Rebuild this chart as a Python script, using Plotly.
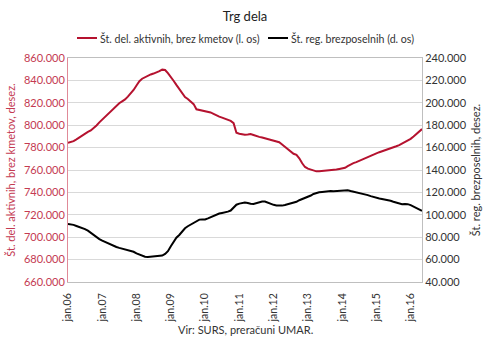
import pandas as pd
import plotly.graph_objects as go

# Monthly observations, January 2006 onwards (seasonally adjusted)
months = pd.date_range("2006-01-01", periods=125, freq="MS")

# Persons in employment excluding farmers (left axis), thousands
employed_k = [
    784.2, 784.8, 785.8, 787.3, 789.0, 791.2, 792.9, 794.0, 795.3, 797.3,
    799.8, 802.5, 805.0, 807.6, 810.0, 812.6, 815.2, 817.5, 819.6, 821.3,
    823.0, 825.5, 828.2, 831.5, 835.5, 839.3, 841.5, 842.9, 844.2, 845.3,
    846.1, 847.0, 848.3, 849.6, 849.3, 846.5, 843.5, 839.5, 836.0, 832.3,
    828.5, 825.2, 823.4, 821.3, 818.8, 814.2, 813.6, 813.7, 813.0, 812.2,
    811.4, 810.2, 808.6, 807.6, 806.8, 805.8, 805.0, 803.8, 801.8, 793.2,
    792.4, 791.9, 791.5, 791.7, 792.1, 791.3, 790.3, 789.6, 789.0, 788.2,
    787.5, 786.8, 786.2, 785.5, 784.8, 782.8, 780.7, 778.5, 776.2, 774.5,
    773.5, 770.5, 766.0, 762.7, 761.2, 760.2, 759.4, 758.8, 758.9, 759.1,
    759.1, 759.3, 759.5, 760.0, 760.4, 760.9, 761.3, 762.0, 763.5, 765.0,
    766.1, 767.0, 768.2, 769.4, 770.3, 771.4, 772.6, 773.8, 774.8, 775.9,
    776.7, 777.2, 778.0, 779.2, 780.3, 781.2, 782.2, 783.5, 784.8, 786.0,
    787.8, 789.9, 792.2, 794.6, 796.5,
]

# Registered unemployed (right axis), thousands
unemployed_k = [
    91.9, 91.5, 91.0, 90.0, 89.2, 88.3, 87.2, 85.8, 83.8, 81.6,
    79.6, 78.3, 76.9, 75.7, 74.5, 73.2, 72.1, 71.3, 70.5, 69.9,
    69.4, 68.8, 68.2, 67.0, 65.6, 64.4, 63.4, 62.6, 62.3, 62.5,
    62.8, 63.0, 63.2, 63.6, 65.0, 67.5, 72.0, 76.5, 79.5, 82.0,
    85.0, 88.0, 89.8, 91.2, 92.8, 94.5, 95.7, 95.8, 95.8, 96.8,
    97.8, 99.0, 100.4, 101.2, 101.7, 102.1, 102.8, 103.8, 106.8, 109.0,
    110.0, 110.7, 111.0, 110.6, 109.8, 109.7, 110.4, 111.4, 111.9, 111.8,
    110.6, 109.6, 108.9, 108.3, 108.1, 108.2, 108.7, 109.3, 110.0, 110.6,
    111.6, 113.0, 114.0, 114.7, 115.9, 117.2, 118.6, 119.5, 120.1, 120.4,
    120.8, 121.2, 121.3, 121.0, 121.3, 121.4, 121.9, 122.2, 121.9, 121.2,
    120.7, 120.0, 119.3, 118.9, 118.3, 117.6, 116.7, 115.8, 115.1, 114.6,
    114.2, 113.8, 113.3, 112.6, 111.7, 110.8, 109.9, 109.5, 109.7, 109.5,
    108.6, 107.4, 106.0, 104.7, 103.6,
]

series_names = ["Št. del. aktivnih, brez kmetov (l. os)", "Št. reg. brezposelnih (d. os)"]

year_ticks = pd.date_range("2006-01-01", "2016-01-01", freq="YS")
year_labels = ["jan.%02d" % (d.year % 100) for d in year_ticks]

left_ticks = list(range(660000, 860001, 20000))
right_ticks = list(range(40000, 240001, 20000))

RED = "#B5122F"
RED_TEXT = "#C43A52"
GRID = "#D9D9D9"
FONT = "Lato"
W, H = 490, 345
ML, MR, MT, MB = 68, 68, 58, 63
PW, PH = W - ML - MR, H - MT - MB


def px_x(p):
    return (p - ML) / PW


def px_y(p):
    return (H - MB - p) / PH


fig = go.Figure()
fig.add_trace(go.Scatter(
    x=months, y=[v * 1000 for v in employed_k], name=series_names[0],
    mode="lines", line=dict(color=RED, width=2),
))
fig.add_trace(go.Scatter(
    x=months, y=[v * 1000 for v in unemployed_k], name=series_names[1],
    mode="lines", line=dict(color="#000000", width=2), yaxis="y2",
))

# One-row legend above the plot: a line sample followed by its label
legend_row_y = 38
legend_items = [(77, 97, RED, series_names[0]), (268, 288, "#000000", series_names[1])]
shapes, annotations = [], []
for x0, x1, col, label in legend_items:
    shapes.append(dict(type="line", xref="paper", yref="paper",
                       x0=px_x(x0), x1=px_x(x1), y0=px_y(legend_row_y), y1=px_y(legend_row_y),
                       line=dict(color=col, width=2)))
    annotations.append(dict(text=label, xref="paper", yref="paper",
                            x=px_x(x1 + 1), y=px_y(legend_row_y), xanchor="left", yanchor="middle",
                            showarrow=False, font=dict(family=FONT, size=10.6, color="#333333")))

annotations.append(dict(
    text="Vir: SURS, preračuni UMAR.", xref="paper", yref="paper",
    x=0.5, y=px_y(329), xanchor="center", yanchor="middle",
    showarrow=False, font=dict(family=FONT, size=11, color="#333333"),
))

fig.update_layout(
    width=W, height=H,
    margin=dict(l=ML, r=MR, t=MT, b=MB),
    paper_bgcolor="white", plot_bgcolor="white",
    separators=",.",
    font=dict(family=FONT, size=11, color="#333333"),
    title=dict(text="Trg dela", x=0.5, xanchor="center", y=1 - 16 / H,
               yanchor="middle", font=dict(family=FONT, size=13, color="#222222")),
    showlegend=False,
    xaxis=dict(
        range=[months[0], months[-1]],
        tickvals=list(year_ticks), ticktext=year_labels, tickangle=-90,
        tickfont=dict(family=FONT, size=10.5, color="#333333"),
        showgrid=False, showline=True, linecolor="#BFBFBF", linewidth=1,
        mirror=True, ticks="outside", ticklen=6, tickcolor="rgba(0,0,0,0)",
        zeroline=False,
    ),
    yaxis=dict(
        range=[660000, 860000], tickvals=left_ticks, tickformat=",.0f",
        tickfont=dict(family=FONT, size=11, color=RED_TEXT),
        title=dict(text="Št. del. aktivnih, brez kmetov, desez.",
                   font=dict(family=FONT, size=11, color=RED_TEXT), standoff=6),
        showgrid=True, gridcolor=GRID, gridwidth=1,
        showline=True, linecolor="#E08A98", linewidth=1,
        ticks="", zeroline=False, automargin=False,
    ),
    yaxis2=dict(
        range=[40000, 240000], tickvals=right_ticks, tickformat=",.0f",
        overlaying="y", side="right",
        tickfont=dict(family=FONT, size=11, color="#333333"),
        title=dict(text="Št. reg. brezposelnih, desez.",
                   font=dict(family=FONT, size=11, color="#333333"), standoff=6),
        showgrid=False, showline=True, linecolor="#BFBFBF", linewidth=1,
        ticks="", zeroline=False, automargin=False,
    ),
    shapes=shapes,
    annotations=annotations,
)

fig.write_html("out.html")
